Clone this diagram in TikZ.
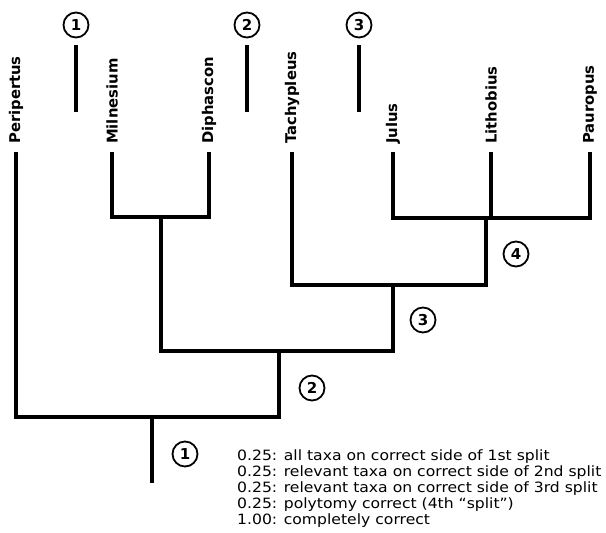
\documentclass[tikz,border=0pt]{standalone}
\usepackage{fontspec}
\setmainfont{DejaVu Sans}
\newfontfamily\keyfont[FakeStretch=1.1]{DejaVu Sans}
\usetikzlibrary{positioning}

\begin{document}
\begin{tikzpicture}[x=1pt,y=-1pt,line join=miter]
  \tikzset{
    branch/.style={line width=4pt},
    taxon/.style={rotate=90,anchor=west,inner xsep=8pt,inner ysep=0pt,
      font=\fontsize{14.8}{14.8}\selectfont\bfseries},
    splitno/.style={circle,draw,line width=1.8pt,minimum size=25pt,inner sep=0pt,
      font=\fontsize{15}{15}\selectfont\bfseries},
    legend/.style={align=left,inner sep=0pt,
      font=\keyfont\fontsize{14.2}{15.8}\selectfont}
  }
  \useasboundingbox (0,0) rectangle (606,533);
  % taxa at the tips
  \node[taxon] (peri) at (16,152) {Peripertus};
  \node[taxon] (miln) at (112,152) {Milnesium};
  \node[taxon] (diph) at (209,152) {Diphascon};
  \node[taxon] (tach) at (292,152) {Tachypleus};
  \node[taxon] (julu) at (393,152) {Julus};
  \node[taxon] (lith) at (491,152) {Lithobius};
  \node[taxon] (paur) at (590,152) {Pauropus};
  % internal nodes
  \coordinate (md) at (161,217);
  \coordinate (jlp) at (486,218);
  \coordinate (tjlp) at (393,285);
  \coordinate (mdt) at (279,351);
  \coordinate (root) at (152,417);
  \coordinate (base) at (152,483);
  % the tree
  \draw[branch] (miln.west) |- (md) -| (diph.west);
  \draw[branch] (julu.west) |- (jlp) -| (paur.west);
  \draw[branch] (lith.west) -- (lith.west |- jlp);
  \draw[branch] (tach.west) |- (tjlp) -| (jlp);
  \draw[branch] (md) |- (mdt) -| (tjlp);
  \draw[branch] (peri.west) |- (root) -| (mdt);
  \draw[branch] (root) -- (base);
  % split numbers on the tree
  \node[splitno] (b1) at (185,454) {1};
  \node[splitno] (b2) at (312,388) {2};
  \node[splitno] (b3) at (423,320) {3};
  \node[splitno] (b4) at (516,254) {4};
  % markers along the top
  \node[splitno] (t1) at (76,25) {1};
  \node[splitno] (t2) at (247,25) {2};
  \node[splitno] (t3) at (359,25) {3};
  \coordinate (t1a) at (76,45);  \coordinate (t1b) at (76,112);
  \coordinate (t2a) at (247,45); \coordinate (t2b) at (247,112);
  \coordinate (t3a) at (359,45); \coordinate (t3b) at (359,112);
  \draw[branch] (t1a) -- (t1b);
  \draw[branch] (t2a) -- (t2b);
  \draw[branch] (t3a) -- (t3b);
  % scoring key
  \node[legend,anchor=north west] (key) at (237,450) {0.25: all taxa on correct side of 1st split\\
    0.25: relevant taxa on correct side of 2nd split\\
    0.25: relevant taxa on correct side of 3rd split\\
    0.25: polytomy correct (4th “split”)\\
    1.00: completely correct};
\end{tikzpicture}
\end{document}
